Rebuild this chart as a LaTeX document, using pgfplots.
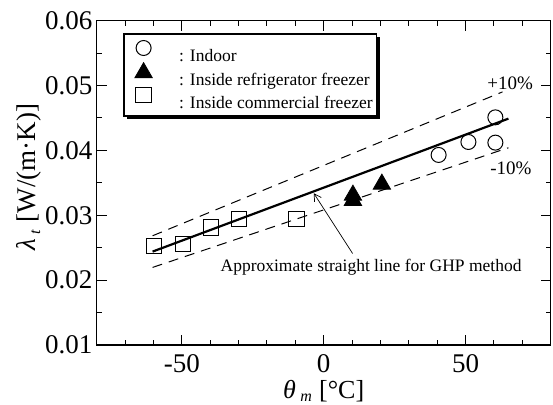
\documentclass[border=0pt]{standalone}
\usepackage{fontspec}
\setmainfont{Liberation Serif}
\usepackage{pgfplots}
\pgfplotsset{compat=1.18}
\usetikzlibrary{shadows,arrows.meta}

\begin{document}
\begin{tikzpicture}
\begin{axis}[name=ax,
  width=454pt, height=324.3pt, scale only axis,
  xmin=-80, xmax=80, ymin=0.01, ymax=0.06,
  scaled y ticks=false, scaled x ticks=false,
  xtick={-50,0,50}, xticklabels={-50,0,50},
  ytick={0.01,0.02,0.03,0.04,0.05,0.06},
  yticklabels={0.01,0.02,0.03,0.04,0.05,0.06},
  minor xtick={-70,-60,-40,-30,-20,-10,10,20,30,40,60,70},
  minor ytick={0.015,0.025,0.035,0.045,0.055},
  tick align=inside, major tick length=10pt, minor tick length=5pt,
  axis line style={line width=1.3pt},
  every tick/.style={line width=1pt, black},
  tick label style={font=\fontsize{27}{27}\selectfont, inner sep=0pt},
  xticklabel style={anchor=base, yshift=-28pt},
  yticklabel style={anchor=east, xshift=-4pt},
  every axis x label/.style={at={(axis description cs:0.5,-0.166)}, anchor=base, inner sep=0pt, font=\fontsize{26}{26}\selectfont},
  every axis y label/.style={at={(axis description cs:-0.15,0.518)}, anchor=center, rotate=90, font=\fontsize{27}{27}\selectfont},
  xlabel={{\itshape θ}\,\raisebox{-0.2ex}{\fontsize{16}{16}\selectfont\itshape m}\;[°C]},
  ylabel={{\itshape λ}\,\raisebox{-0.4ex}{\fontsize{16}{16}\selectfont\itshape t}\;[W/(m·K)]},
  legend style={at={(axis description cs:0.0586,0.961)}, anchor=north west,
    draw=black, line width=1.3pt, fill=white,
    drop shadow={shadow xshift=3pt, shadow yshift=-3pt, fill=black, opacity=1},
    inner xsep=4pt, inner ysep=6.5pt, row sep=0pt, column sep=0pt,
    font=\fontsize{17.5}{17.5}\selectfont,
    nodes={inner xsep=0pt, inner ysep=0pt, text height=17pt, text depth=1.3pt}},
  legend cell align=left,
  legend image code/.code={\path (-15pt,0pt) (35pt,0pt); \draw[#1] plot coordinates {(0pt,5.5pt)};},
]
\addplot[only marks, mark=o, mark size=7.5pt, mark options={line width=1pt, black}] coordinates {
  (40.5,0.0393) (51,0.0413) (60.5,0.0451) (60.5,0.0412)
};
\addlegendentry{: Indoor}
\addplot[only marks, mark=triangle*, mark size=10pt, mark options={line width=0.8pt, black, fill=black}] coordinates {
  (10.3,0.0331) (10.3,0.0323) (20.5,0.0348)
};
\addlegendentry{: Inside refrigerator freezer}
\addplot[only marks, mark=square, mark size=7.6pt, mark options={line width=1pt, black}] coordinates {
  (-59.7,0.0253) (-49.6,0.0256) (-39.7,0.0281) (-29.8,0.0294) (-9.6,0.0294)
};
\addlegendentry{: Inside commercial freezer}
\addplot[forget plot, black, line width=2.2pt] coordinates {(-60.3,0.0244) (65.1,0.0449)};
\addplot[forget plot, black, line width=1pt, dash pattern=on 10pt off 7pt] coordinates {(-60.3,0.02684) (63,0.04902)};
\addplot[forget plot, black, line width=1pt, dash pattern=on 10pt off 7pt] coordinates {(-60.3,0.02196) (65.1,0.04041)};
\node[font=\fontsize{17.5}{17.5}\selectfont] at (axis cs:16.7,0.0220) {Approximate straight line for GHP method};
\node[font=\fontsize{19}{19}\selectfont] at (axis cs:65.7,0.0503) {+10\%};
\node[font=\fontsize{19}{19}\selectfont] at (axis cs:66,0.0373) {-10\%};
\draw[-{Straight Barb[length=7pt,width=8pt]}, line width=0.7pt] (axis cs:10.2,0.0241) -- (axis cs:-3.5,0.0334);
\end{axis}
\pgfresetboundingbox
\path ([shift={(-96.7pt,-60pt)}]ax.south west) rectangle ([shift={(2.3pt,20.7pt)}]ax.north east);
\end{tikzpicture}
\end{document}
